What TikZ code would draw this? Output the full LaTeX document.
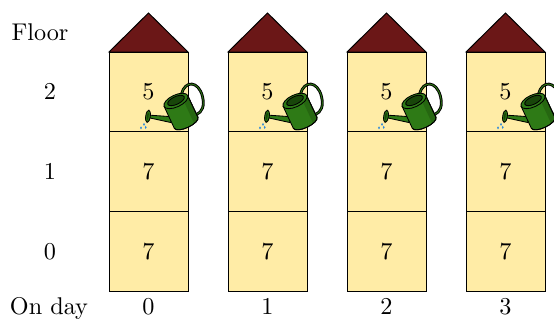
\documentclass[tikz,border=0pt]{standalone}
\definecolor{wall}{RGB}{255,236,166}
\definecolor{roofred}{RGB}{107,23,23}
\definecolor{cangreen}{RGB}{46,122,22}
\definecolor{candark}{RGB}{24,70,10}
\definecolor{drop}{RGB}{40,135,220}
\begin{document}
\begin{tikzpicture}[x=0.4132pt,y=-0.4132pt,
  floorbox/.style={draw=black, line width=0.4pt, fill=wall,
    minimum width=79*0.4132pt, minimum height=79.7*0.4132pt,
    inner sep=0pt, outer sep=0pt},
  roof/.style={fill=roofred, draw=black, line width=0.4pt},
  lbl/.style={inner sep=0pt},
  canpart/.style={fill=cangreen, draw=black, line width=0.35pt},
  can/.pic={
    % the watering can, tilted for pouring
    \begin{scope}[shift={(32.5,20)},x=0.4132pt,y=0.4132pt,rotate=25]
      % handle on the back side
      \draw[black, line width=2.8*0.4132pt, line cap=round]
        (8,16) .. controls (17,27) and (29,21) .. (26,5)
        .. controls (24,-5) and (19,-9) .. (13,-9);
      \draw[cangreen, line width=0.9*0.4132pt, line cap=round]
        (8,16) .. controls (17,27) and (29,21) .. (26,5)
        .. controls (24,-5) and (19,-9) .. (13,-9);
      % spout and rose
      \draw[canpart] (-10.4,-0.5) -- (-30.3,10.5) -- (-31.7,8.3) -- (-13.6,-5.5) -- cycle;
      \draw[canpart] (-31.8,9.9) ellipse[x radius=2.3, y radius=6.2, rotate=-33.1];
      \fill[candark] (-32,10) ellipse[x radius=0.9, y radius=3.9, rotate=-33.1];
      % body
      \draw[canpart] (-13,12) -- (-13,-12)
        arc[start angle=180, end angle=360, x radius=13, y radius=5]
        -- (13,12) -- cycle;
      \fill[candark, opacity=0.35] (7,12) -- (7,-16.6)
        arc[start angle=297, end angle=360, x radius=13, y radius=5]
        -- (13,12) -- cycle;
      \draw[black, line width=0.35pt] (-13,-12)
        arc[start angle=180, end angle=360, x radius=13, y radius=5] -- (13,12);
      % top with opening
      \draw[canpart] (0,12) ellipse[x radius=13, y radius=6];
      \draw[fill=candark, draw=black, line width=0.35pt] (0.3,12.4) ellipse[x radius=9, y radius=3.9];
    \end{scope}
    % water drops
    \fill[drop] (-4.5,32.5) ellipse[x radius=0.9, y radius=1.5];
    \fill[drop] (-7.5,36) ellipse[x radius=0.9, y radius=1.5];
    \fill[drop] (-2.8,35.5) ellipse[x radius=0.9, y radius=1.5];
  }]
\useasboundingbox (0,0) rectangle (554,323);

% row labels
\node[lbl, anchor=base] (floorlbl) at (40,40.7) {Floor};
\node[lbl] (lv2) at (50,91.85) {2};
\node[lbl] (lv1) at (50,171.55) {1};
\node[lbl] (lv0) at (50,251.25) {0};
\node[lbl, anchor=base] (daylbl) at (49,314) {On day};

% one building per day
\foreach \d in {0,...,3} {
  \pgfmathsetmacro\bx{148.5+119*\d}
  \node[floorbox] (f\d-0) at (\bx,251.25) {7};
  \node[floorbox] (f\d-1) at (\bx,171.55) {7};
  \node[floorbox] (f\d-2) at (\bx,91.85) {5};
  \coordinate (apex\d) at (\bx,13);
  \draw[roof] (f\d-2.north west) -- (apex\d) -- (f\d-2.north east) -- cycle;
  \pic at (f\d-2.center) {can};
  \node[lbl, anchor=base] (day\d) at (\bx,314) {\d};
}
\end{tikzpicture}
\end{document}
